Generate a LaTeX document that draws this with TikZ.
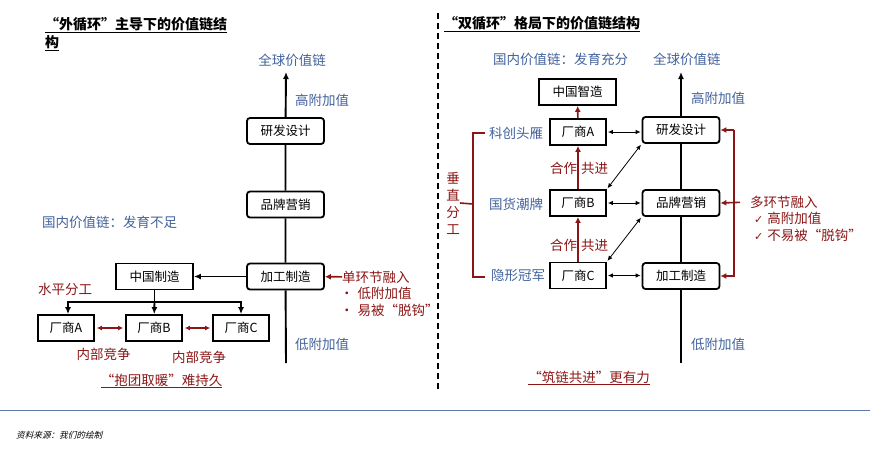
\documentclass[tikz,border=0pt]{standalone}
\usepackage{fontspec}
\setmainfont{Noto Sans CJK SC}
\newfontfamily\symfont{DejaVu Sans}
\newfontfamily\slantfont[FakeSlant=0.25]{Noto Sans CJK SC}
\usetikzlibrary{arrows.meta}
\definecolor{myred}{RGB}{140,22,22}
\definecolor{myblue}{RGB}{66,98,156}
\tikzset{
  >=Latex,
  box/.style={draw,line width=1.8pt,rounded corners=3pt,minimum width=77pt,minimum height=26pt,inner sep=0pt,font=\fontsize{12.5}{14}\selectfont},
  sqbox/.style={box,rounded corners=0pt},
  firm/.style={sqbox,minimum width=56pt},
  bluetxt/.style={text=myblue,font=\fontsize{13.5}{15}\selectfont,inner sep=0pt},
  redtxt/.style={text=myred,font=\fontsize{13.5}{15}\selectfont,inner sep=0pt},
  title/.style={font=\bfseries\fontsize{14}{18}\selectfont,inner sep=0pt,align=left},
  mainline/.style={line width=1.9pt},
  blackarrow/.style={mainline,-{Latex[length=7pt,width=6pt]}},
  redline/.style={myred,line width=1.6pt},
  redarrow/.style={redline,-{Latex[length=6pt,width=6pt]}},
  reddbl/.style={myred,line width=1.2pt,{Latex[length=5pt,width=5pt]}-{Latex[length=5pt,width=5pt]},shorten <=2pt,shorten >=2pt},
  thindbl/.style={line width=0.8pt,{Latex[length=5pt,width=4.5pt]}-{Latex[length=5pt,width=4.5pt]},shorten <=1pt,shorten >=1pt}
}
\begin{document}
\begin{tikzpicture}[x=1pt,y=-1pt]
\useasboundingbox (0,0) rectangle (870,456);
% ---- left: outer loop
\node[title,anchor=north west] (ltitle) at (45,17) {\underline{“外循环”主导下的价值链结}\\\underline{构}};
\node[bluetxt] (lglob) at (292,60) {全球价值链};
\node[bluetxt,anchor=west] (lhigh) at (295,100) {高附加值};
\node[bluetxt,anchor=west] (ldom) at (42,222) {国内价值链：发育不足};
\node[bluetxt,anchor=west] (llow) at (295,344) {低附加值};
\node[box] (lrd) at (285.5,131) {研发设计};
\node[box] (lbrand) at (285.5,204.5) {品牌营销};
\node[box] (lmfg) at (285.5,276.5) {加工制造};
\node[sqbox] (cnmfg) at (154.5,276.5) {中国制造};
\node[firm] (fa) at (66,328) {厂商A};
\node[firm] (fb) at (154,328) {厂商B};
\node[firm] (fc) at (241,328) {厂商C};
\coordinate (ltip) at (286,72);
\coordinate (lend) at (286,363);
\coordinate (split) at (154.5,302);
\draw[blackarrow] (lrd) -- (ltip);
\draw[mainline] (lrd) -- (lbrand) -- (lmfg) -- (lend);
\draw[blackarrow] (lmfg) -- (cnmfg);
\draw[mainline] (cnmfg) -- (split);
\draw[blackarrow] (split) -| ([xshift=2pt]fa.north);
\draw[blackarrow] (split) -- (fb);
\draw[blackarrow] (split) -| (fc.north);
\draw[reddbl] (fa) -- (fb);
\draw[reddbl] (fb) -- (fc);
\node[redtxt,anchor=west] (single) at (342,277) {单环节融入};
\node[redtxt,anchor=west] (lb1) at (340,293) {•\hspace{4pt}低附加值};
\node[redtxt,anchor=west] (lb2) at (340,310) {•\hspace{4pt}易被“脱钩”};
\draw[redarrow] (single) -- (lmfg);
\node[redtxt,anchor=west] (horiz) at (38,289) {水平分工};
\node[redtxt] (comp1) at (103.5,354) {内部竞争};
\node[redtxt] (comp2) at (199,357) {内部竞争};
\node[redtxt] (lnote) at (161.5,381) {\underline{“抱团取暖”难持久}};
% ---- divider and footer
\draw[line width=1.8pt,dash pattern=on 6pt off 4pt] (438,13) -- (438,390);
\draw[myblue!85,line width=1pt] (0,410) -- (870,410);
\node[anchor=west,inner sep=0pt,font=\slantfont\fontsize{8.6}{10}\selectfont] (src) at (16,435) {资料来源：我们的绘制};
% ---- right: dual loop
\node[title,anchor=west] (rtitle) at (444,24) {\underline{“双循环”格局下的价值链结构}};
\node[bluetxt,anchor=west] (rdom) at (493,59) {国内价值链：发育充分};
\node[bluetxt,anchor=west] (rglob) at (653,59) {全球价值链};
\node[bluetxt,anchor=west] (rhigh) at (691,98) {高附加值};
\node[bluetxt,anchor=west] (rlow) at (691,344) {低附加值};
\node[box] (rrd) at (681,130) {研发设计};
\node[box] (rbrand) at (681,203) {品牌营销};
\node[box] (rmfg) at (681,276) {加工制造};
\node[sqbox] (smart) at (577.5,92) {中国智造};
\node[firm] (ra) at (578,132) {厂商A};
\node[firm] (rb) at (578,203) {厂商B};
\node[firm] (rc) at (578,275.5) {厂商C};
\coordinate (rtip) at (681,72);
\coordinate (rend) at (681,363);
\draw[blackarrow] (rrd) -- (rtip);
\draw[mainline] (rrd) -- (rbrand) -- (rmfg) -- (rend);
\node[redtxt] (coop1) at (579,168) {合作\hspace{4pt}共进};
\node[redtxt] (coop2) at (579,245) {合作\hspace{4pt}共进};
\draw[redarrow] (ra) -- (smart);
\draw[redarrow] (rb) -- (ra);
\draw[redarrow] (rc) -- (rb);
\draw[thindbl] (ra.east) -- (ra.east -| rrd.west);
\draw[thindbl] (rb.east) -- (rb.east -| rbrand.west);
\draw[thindbl] (rc.east) -- (rc.east -| rmfg.west);
\draw[thindbl] (rrd.south west) -- (rb.north east);
\draw[thindbl] (rbrand.south west) -- (rc.north east);
\node[bluetxt,anchor=west] (lead) at (489,133) {科创头雁};
\node[bluetxt,anchor=west] (trend) at (489,204) {国货潮牌};
\node[bluetxt,anchor=west] (champ) at (491,275) {隐形冠军};
\node[redtxt,align=center,font=\fontsize{13.5}{17}\selectfont] (vert) at (453,203) {垂\\直\\分\\工};
\coordinate (lbtop) at (473,133);
\coordinate (lbbot) at (473,277);
\coordinate (lbmid) at (473,204);
\draw[redline] ([xshift=-4pt]lead.west) -- (lbtop) -- (lbbot) -- ([xshift=-6pt]champ.west |- lbbot);
\draw[redline] (vert.east) -- (lbmid);
\coordinate (rbtop) at (734,130);
\coordinate (rbbot) at (734,276);
\draw[redarrow] (rbtop) -- (rrd.east);
\draw[redarrow] (rbtop) -- (rbbot) -- (rmfg.east);
\node[redtxt,anchor=west] (multi) at (750,202) {多环节融入};
\draw[redarrow,shorten <=10pt] (multi.west) -- (rbrand.east);
\node[redtxt,anchor=west] (rb1) at (754,218) {{\symfont\fontsize{11}{13}\selectfont ✓}\hspace{4pt}高附加值};
\node[redtxt,anchor=west] (rb2) at (754,235) {{\symfont\fontsize{11}{13}\selectfont ✓}\hspace{4pt}不易被“脱钩”};
\node[redtxt] (rnote) at (589,378) {\underline{“筑链共进”更有力}};
\end{tikzpicture}
\end{document}
